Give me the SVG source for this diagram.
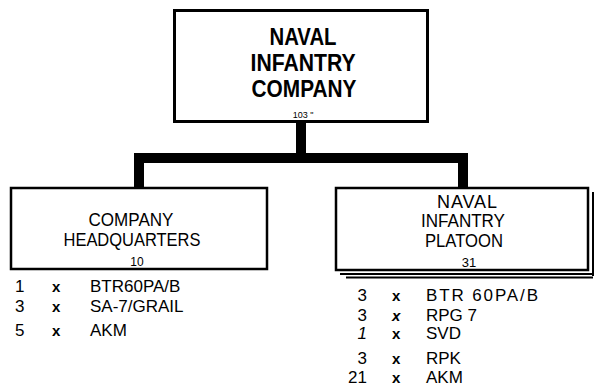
<svg xmlns="http://www.w3.org/2000/svg" width="596" height="386" viewBox="0 0 596 386">
<style>
.box{fill:#fff;stroke:#000;stroke-width:2.5}
.t{font-family:"Liberation Sans",Arial,sans-serif;fill:#000}
.h{font-size:24px;font-weight:bold;text-anchor:middle}
.n{font-size:18px;text-anchor:middle}
.s{font-size:12px;text-anchor:middle}
.l{font-size:17px}
.x{font-size:15px;font-weight:bold}
.r{text-anchor:end}
.conn{fill:none;stroke:#000;stroke-width:10;stroke-linejoin:miter}
.ln{stroke:#000;stroke-width:2;fill:none}
</style>
<g id="connectors">
<path class="conn" d="M301 121 V158"/>
<path class="conn" d="M139 189 V158 H463 V189"/>
</g>
<g id="company">
<rect class="box" x="174.5" y="10.5" width="253" height="111" style="stroke-width:3"/>
<text class="t h" x="303" y="45" textLength="67" lengthAdjust="spacingAndGlyphs">NAVAL</text>
<text class="t h" x="303" y="71" textLength="105" lengthAdjust="spacingAndGlyphs">INFANTRY</text>
<text class="t h" x="304" y="97" textLength="105" lengthAdjust="spacingAndGlyphs">COMPANY</text>
<text class="t s" x="303" y="118" style="font-size:9px">103 "</text>
</g>
<g id="hq">
<rect class="box" x="11" y="188" width="256" height="81"/>
<text class="t n" x="131" y="226" textLength="85" lengthAdjust="spacingAndGlyphs">COMPANY</text>
<text class="t n" x="132" y="246" textLength="137" lengthAdjust="spacingAndGlyphs">HEADQUARTERS</text>
<text class="t s" x="137" y="266">10</text>
<text class="t l" x="15" y="292">1</text>
<text class="t x" x="52" y="292">x</text>
<text class="t l" x="90" y="292">BTR60PA/B</text>
<text class="t l" x="15" y="312">3</text>
<text class="t x" x="52" y="312">x</text>
<text class="t l" x="90" y="312">SA-7/GRAIL</text>
<text class="t l" x="15" y="336">5</text>
<text class="t x" x="52" y="336">x</text>
<text class="t l" x="90" y="336">AKM</text>
</g>
<g id="platoon">
<path class="ln" d="M593 192 V276 M340 274 H593 M346 277.5 H593"/>
<rect class="box" x="336" y="188" width="252" height="82"/>
<text class="t n" x="467" y="208" textLength="60" lengthAdjust="spacing">NAVAL</text>
<text class="t n" x="463" y="227" textLength="84" lengthAdjust="spacingAndGlyphs">INFANTRY</text>
<text class="t n" x="464" y="247" textLength="78" lengthAdjust="spacingAndGlyphs">PLATOON</text>
<text class="t s" x="469" y="267" style="font-size:13px">31</text>
<text class="t l r" x="367" y="301">3</text>
<text class="t x" x="392" y="301">x</text>
<text class="t l" x="426" y="301" textLength="112" lengthAdjust="spacing">BTR 60PA/B</text>
<text class="t l r" x="367" y="321">3</text>
<text class="t x" x="392" y="321" font-style="italic">x</text>
<text class="t l" x="426" y="321">RPG 7</text>
<text class="t l r" x="367" y="339" font-style="italic">1</text>
<text class="t x" x="392" y="339">x</text>
<text class="t l" x="426" y="339">SVD</text>
<text class="t l r" x="367" y="364">3</text>
<text class="t x" x="392" y="364">x</text>
<text class="t l" x="426" y="364">RPK</text>
<text class="t l r" x="367" y="383">21</text>
<text class="t x" x="392" y="383">x</text>
<text class="t l" x="426" y="383">AKM</text>
</g>
</svg>
